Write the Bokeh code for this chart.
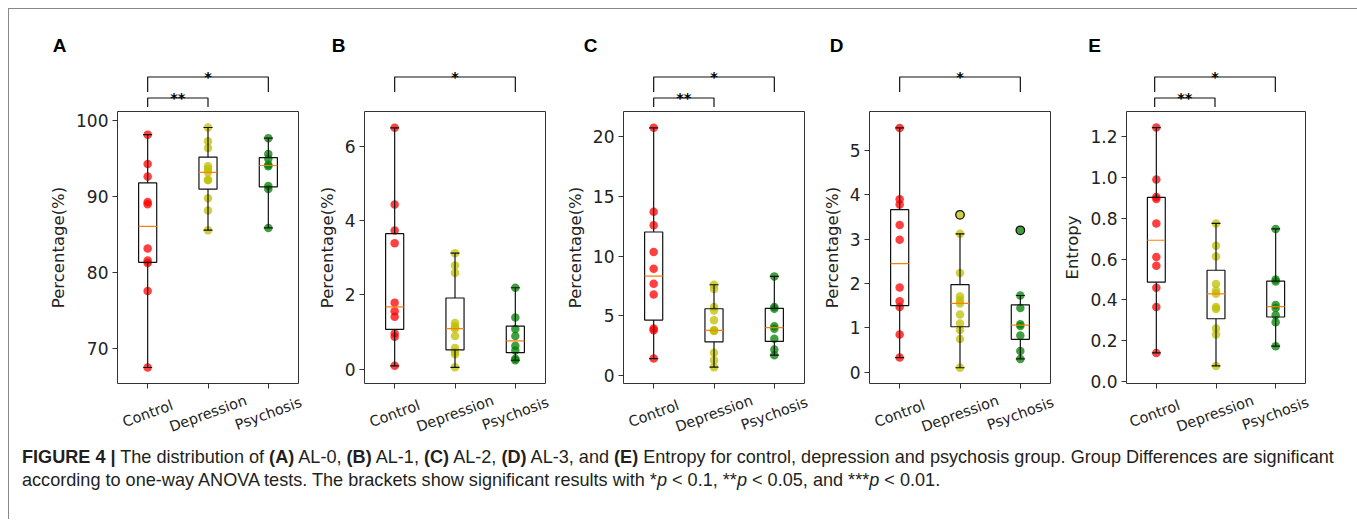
import numpy as np
from bokeh.plotting import figure
from bokeh.models import FixedTicker, Div, Range1d, PrintfTickFormatter
from bokeh.layouts import row, column
from bokeh.embed import file_html
from bokeh.resources import INLINE
from bokeh.core.properties import value

# ---------------- data ----------------
groups = ["Control", "Depression", "Psychosis"]
group_colors = ["#ff0000", "#bfbf00", "#008000"]
panel_letters = ["A", "B", "C", "D", "E"]
y_titles = ["Percentage(%)", "Percentage(%)", "Percentage(%)", "Percentage(%)", "Entropy"]

al0_control = [98.16, 94.3, 92.65, 89.3, 89.0, 83.2, 81.6, 81.3, 77.6, 67.55]
al0_depression = [99.1, 97.3, 96.4, 94.0, 93.6, 93.2, 92.2, 92.2, 89.8, 88.2, 85.6]
al0_psychosis = [97.7, 95.6, 95.0, 94.2, 94.0, 91.4, 91.0, 85.9]

al1_control = [6.49, 4.43, 3.73, 3.39, 1.79, 1.56, 1.41, 0.96, 0.87, 0.09]
al1_depression = [3.12, 2.79, 2.59, 1.24, 1.15, 1.09, 0.89, 0.57, 0.47, 0.40, 0.05]
al1_psychosis = [2.19, 1.39, 1.08, 0.89, 0.63, 0.50, 0.28, 0.24]

al2_control = [20.7, 13.7, 12.56, 10.33, 8.94, 7.69, 6.78, 3.94, 3.8, 1.44]
al2_depression = [7.6, 7.25, 5.75, 5.45, 4.64, 3.80, 3.78, 3.75, 1.92, 1.30, 0.72]
al2_psychosis = [8.3, 5.75, 5.6, 4.14, 3.92, 3.1, 2.19, 1.72]

al3_control = [5.51, 3.9, 3.78, 3.32, 2.99, 1.91, 1.60, 1.47, 0.85, 0.33]
al3_depression = [3.55, 3.12, 2.24, 1.71, 1.62, 1.55, 1.30, 1.10, 0.95, 0.75, 0.10]
al3_psychosis = [3.2, 1.73, 1.45, 1.08, 1.04, 0.83, 0.48, 0.30]

entropy_control = [1.245, 0.99, 0.905, 0.895, 0.775, 0.61, 0.567, 0.46, 0.365, 0.14]
entropy_depression = [0.775, 0.665, 0.613, 0.478, 0.445, 0.43, 0.365, 0.355, 0.26, 0.23, 0.076]
entropy_psychosis = [0.748, 0.50, 0.49, 0.375, 0.36, 0.325, 0.29, 0.173]

ticks_a = [70, 80, 90, 100]
ticks_b = [0, 2, 4, 6]
ticks_c = [0, 5, 10, 15, 20]
ticks_d = [0, 1, 2, 3, 4, 5]
ticks_e = [0.0, 0.2, 0.4, 0.6, 0.8, 1.0, 1.2]

ylim_a = (65.45, 101.2)
ylim_b = (-0.385, 6.93)
ylim_c = (-0.64, 22.06)
ylim_d = (-0.255, 5.88)
ylim_e = (-0.01, 1.324)

sig_a = [("Control", "Depression", "**"), ("Control", "Psychosis", "*")]
sig_b = [("Control", "Psychosis", "*")]
sig_c = [("Control", "Depression", "**"), ("Control", "Psychosis", "*")]
sig_d = [("Control", "Psychosis", "*")]
sig_e = [("Control", "Depression", "**"), ("Control", "Psychosis", "*")]

caption_html = (
    '<b>FIGURE 4 |</b> The distribution of <b>(A)</b> AL-0, <b>(B)</b> AL-1, '
    '<b>(C)</b> AL-2, <b>(D)</b> AL-3, and <b>(E)</b> Entropy for control, depression '
    'and psychosis group. Group Differences are significant<br>'
    'according to one-way ANOVA tests. The brackets show significant results with '
    '*<i>p</i> &lt; 0.1, **<i>p</i> &lt; 0.05, and ***<i>p</i> &lt; 0.01.'
)

panels = [
    ([al0_control, al0_depression, al0_psychosis], ticks_a, ylim_a, sig_a, None),
    ([al1_control, al1_depression, al1_psychosis], ticks_b, ylim_b, sig_b, None),
    ([al2_control, al2_depression, al2_psychosis], ticks_c, ylim_c, sig_c, None),
    ([al3_control, al3_depression, al3_psychosis], ticks_d, ylim_d, sig_d, None),
    ([entropy_control, entropy_depression, entropy_psychosis], ticks_e, ylim_e, sig_e, "%.1f"),
]

# ---------------- layout (pixels) ----------------
FRAME_W, FRAME_H = 181, 272
HEAD_H = 99           # band above the plot frames (brackets, panel letters)
MAIN_T, MAIN_B = 3, 8  # borders of each main plot
FOOT_H = 46           # band below (rotated group names)
fig_widths = [303, 249, 255, 244, 292]
fig_lefts = [108, 52, 62, 53, 64]
letter_dx = [-58, -26, -33, -33, -30]
BOX_W, CAP_W = 0.3, 0.15
INK = "#111111"
TOTAL_W = sum(fig_widths)
frame_lefts = [sum(fig_widths[:i]) + fig_lefts[i] for i in range(5)]
UNIT = 3.0 / FRAME_W   # data units per pixel along x


def box_stats(v):
    v = np.sort(np.asarray(v, dtype=float))
    q1, med, q3 = np.percentile(v, [25, 50, 75])
    iqr = q3 - q1
    lo_f, hi_f = q1 - 1.5 * iqr, q3 + 1.5 * iqr
    inside = v[(v >= lo_f) & (v <= hi_f)]
    fliers = v[(v < lo_f) | (v > hi_f)]
    return q1, med, q3, inside.min(), inside.max(), fliers


def band(height):
    # one full-width bare figure; each panel gets its own x range aligned with its plot
    f = figure(width=TOTAL_W, height=height, title=None,
               x_range=Range1d(0, TOTAL_W), y_range=Range1d(0, height),
               x_axis_location=None, y_axis_location=None,
               output_backend="svg", toolbar_location=None,
               min_border_left=0, min_border_right=0,
               min_border_top=0, min_border_bottom=0,
               background_fill_color="white", border_fill_color="white")
    f.extra_x_ranges = {panel_letters[i]: Range1d(0.5 - fl * UNIT, 0.5 + (TOTAL_W - fl) * UNIT)
                        for i, fl in enumerate(frame_lefts)}
    f.grid.visible = False
    f.outline_line_color = None
    return f


head = band(HEAD_H)
foot = band(FOOT_H)

figs = []
for k, (data, ticks, ylim, sig, fmt) in enumerate(panels):
    w = fig_widths[k]
    left = fig_lefts[k]
    right = w - left - FRAME_W
    rn = panel_letters[k]

    # ---- main plot ----
    p = figure(width=w, height=FRAME_H + MAIN_T + MAIN_B, title=None,
               x_range=Range1d(0.5, 3.5), y_range=Range1d(*ylim),
               output_backend="svg", toolbar_location=None,
               min_border_left=left, min_border_right=right,
               min_border_top=MAIN_T, min_border_bottom=MAIN_B,
               background_fill_color="white", border_fill_color="white")
    p.grid.visible = False
    p.outline_line_color = "#333333"
    p.outline_line_width = 1

    ya = p.yaxis[0]
    ya.ticker = FixedTicker(ticks=ticks)
    if fmt:
        ya.formatter = PrintfTickFormatter(format=fmt)
    ya.axis_label = y_titles[k]
    ya.axis_label_text_font = "DejaVu Sans"
    ya.axis_label_text_font_style = "normal"
    ya.axis_label_text_font_size = "16.5px"
    ya.axis_label_text_color = "#222222"
    ya.axis_label_standoff = 5
    ya.major_label_text_font = "DejaVu Sans"
    ya.major_label_text_font_size = "17px"
    ya.major_label_text_color = "#222222"
    ya.major_label_standoff = 4
    ya.major_tick_out = 5
    ya.major_tick_in = 0
    ya.minor_tick_line_color = None
    ya.major_tick_line_color = "#333333"
    ya.axis_line_color = None

    xa = p.xaxis[0]
    xa.ticker = FixedTicker(ticks=[1, 2, 3])
    xa.major_label_overrides = {1: "", 2: "", 3: ""}
    xa.major_label_text_font_size = "1px"
    xa.major_label_standoff = 0
    xa.major_tick_out = 5
    xa.major_tick_in = 0
    xa.minor_tick_line_color = None
    xa.major_tick_line_color = "#333333"
    xa.axis_line_color = None

    for i, (vals, col) in enumerate(zip(data, group_colors)):
        p.scatter(x=[i + 1] * len(vals), y=vals, size=8.5, fill_color=col,
                  fill_alpha=0.75, line_color=None)

    stats = [box_stats(v) for v in data]
    pos = np.arange(1, 4)
    q1 = [s[0] for s in stats]; med = [s[1] for s in stats]; q3 = [s[2] for s in stats]
    lo = [s[3] for s in stats]; hi = [s[4] for s in stats]
    p.segment(x0=pos, y0=q1, x1=pos, y1=lo, line_color=INK, line_width=1.2)
    p.segment(x0=pos, y0=q3, x1=pos, y1=hi, line_color=INK, line_width=1.2)
    p.segment(x0=pos - CAP_W / 2, y0=lo, x1=pos + CAP_W / 2, y1=lo, line_color=INK, line_width=1.2)
    p.segment(x0=pos - CAP_W / 2, y0=hi, x1=pos + CAP_W / 2, y1=hi, line_color=INK, line_width=1.2)
    p.quad(left=pos - BOX_W / 2, right=pos + BOX_W / 2, bottom=q1, top=q3,
           fill_color=None, line_color=INK, line_width=1.2)
    p.segment(x0=pos - BOX_W / 2, y0=med, x1=pos + BOX_W / 2, y1=med,
              line_color="#ff7f0e", line_width=1.2)
    for i, s in enumerate(stats):
        if len(s[5]):
            p.scatter(x=[i + 1] * len(s[5]), y=s[5], size=8.5, fill_color=None,
                      line_color=INK, line_width=1.3)
    figs.append(p)

    # ---- header: significance brackets + panel letter ----
    bx, by, sx, sy, st = [], [], [], [], []
    for (g1, g2, stars) in sig:
        x1 = groups.index(g1) + 1
        x2 = groups.index(g2) + 1
        if x2 - x1 == 1:
            ly, leg = 10.5, 9
        else:
            ly, leg = 31.5, 15
        bx.append([x1, x1, x2, x2])
        by.append([ly - leg, ly, ly, ly - leg])
        sx.append((x1 + x2) / 2)
        sy.append(ly + 0.5)
        st.append(stars)
    head.multi_line(xs=bx, ys=by, line_color=INK, line_width=1.2, x_range_name=rn)
    head.text(x=sx, y=sy, text=st, text_align="center", text_baseline="alphabetic",
              text_font=value("DejaVu Sans"), text_font_style="bold",
              text_font_size="14.5px", text_color="black", x_range_name=rn)
    head.text(x=[frame_lefts[k] + letter_dx[k]], y=[63.5], text=[panel_letters[k]],
              text_align="center", text_baseline="middle",
              text_font=value("Liberation Sans"), text_font_style="bold",
              text_font_size="19px", text_color="black")

    # ---- footer: rotated group names centred on the ticks ----
    foot.text(x=[1, 2, 3], y=[FOOT_H - 22] * 3, text=groups, angle=20, angle_units="deg",
              text_align="center", text_baseline="middle",
              text_font=value("DejaVu Sans"), text_font_size="14.5px",
              text_color="#222222", x_range_name=rn)

cap = Div(text='<div style="font-family: \'Liberation Sans\', Arial, sans-serif; '
               'font-size: 18.1px; line-height: 23px; color: #231f20; '
               'padding-left: 8px; padding-top: 4px; white-space: nowrap;">'
               + caption_html + '</div>',
          width=TOTAL_W, height=72)

layout = column(head, row(*figs), foot, cap,
                styles={"margin-left": "8px", "margin-top": "8px",
                        "border-top": "1.5px solid #888888",
                        "border-left": "1.5px solid #888888",
                        "border-right": "1.5px solid #888888"})

open("out.html", "w").write(file_html(layout, INLINE))
